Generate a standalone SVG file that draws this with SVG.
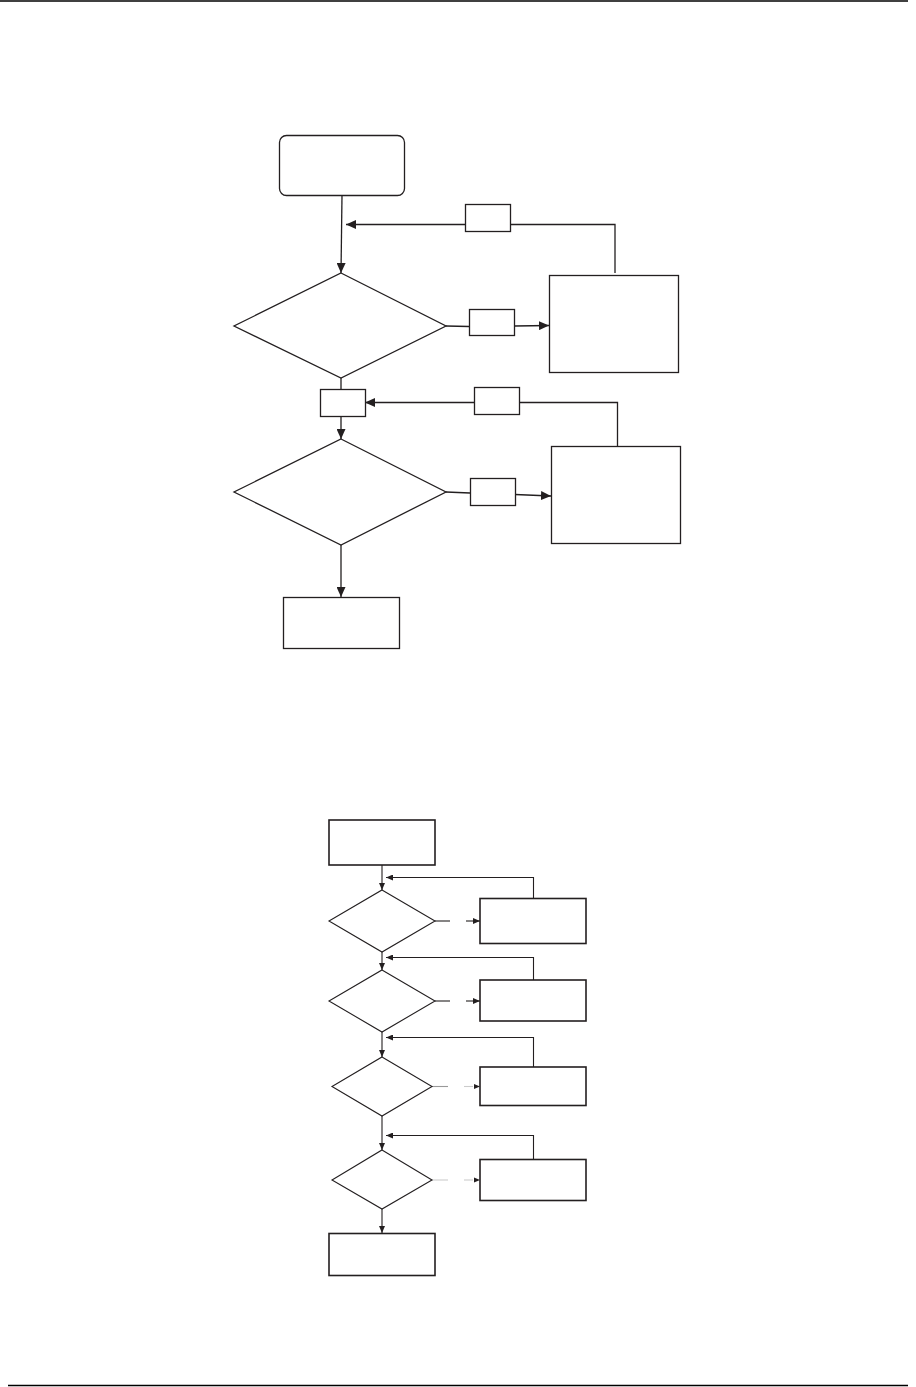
<svg xmlns="http://www.w3.org/2000/svg" width="916" height="1387" viewBox="0 0 916 1387">
<style>
.n{fill:#fff;stroke:#231f20;stroke-width:1.3}
.nb{fill:#fff;stroke:#231f20;stroke-width:1.6}
.c{fill:none;stroke:#231f20;stroke-width:1.3}
.cs{fill:none;stroke:#231f20;stroke-width:1.1}
.rule{stroke:#000;stroke-width:1.6}
</style>
<defs>
<marker id="a" markerUnits="userSpaceOnUse" markerWidth="10" markerHeight="9" refX="10" refY="4.5" orient="auto"><path d="M0,0 L10,4.5 L0,9 z" fill="#231f20"/></marker>
<marker id="s" markerUnits="userSpaceOnUse" markerWidth="7" markerHeight="6" refX="7" refY="3" orient="auto"><path d="M0,0 L7,3 L0,6 z" fill="#231f20"/></marker>
</defs>
<line class="rule" x1="0" y1="1" x2="908" y2="1"/>
<line class="rule" x1="8" y1="1385.5" x2="908" y2="1385.5"/>

<g id="connectors">
<!-- upper diagram -->
<path class="c" d="M342,195 L341,273" marker-end="url(#a)"/>
<path class="c" d="M465,224.5 L346,224.5" marker-end="url(#a)"/>
<path class="c" d="M510,224.5 L615,224.5 L615,273"/>
<path class="c" d="M446,326 L469,326.5"/>
<path class="c" d="M514.5,326 L549,325.5" marker-end="url(#a)"/>
<path class="c" d="M341,378 L341,389"/>
<path class="c" d="M474,402.5 L365,402.5" marker-end="url(#a)"/>
<path class="c" d="M519,402.5 L617.5,402.5 L617.5,446"/>
<path class="c" d="M341,416 L341,439" marker-end="url(#a)"/>
<path class="c" d="M446,492 L470,493"/>
<path class="c" d="M515,494.5 L551,496" marker-end="url(#a)"/>
<path class="c" d="M341,545 L341,597" marker-end="url(#a)"/>
<!-- lower diagram -->
<path class="cs" d="M382,865 L382,890" marker-end="url(#s)"/>
<path class="cs" d="M533.5,898 L533.5,877.5 L386,877.5" marker-end="url(#s)"/>
<path class="cs" d="M435,921 L450,921"/>
<path class="cs" d="M466,921 L480,921" marker-end="url(#s)"/>
<path class="cs" d="M382,952 L382,970" marker-end="url(#s)"/>
<path class="cs" d="M533.5,980 L533.5,957.5 L386,957.5" marker-end="url(#s)"/>
<path class="cs" d="M435,1001 L450,1001"/>
<path class="cs" d="M466,1001 L480,1001" marker-end="url(#s)"/>
<path class="cs" d="M382,1032 L382,1057" marker-end="url(#s)"/>
<path class="cs" d="M533.5,1067 L533.5,1037.5 L386,1037.5" marker-end="url(#s)"/>
<path class="cs" d="M432,1086.5 L448,1086.5" style="stroke:#999"/>
<path class="cs" d="M464,1086.5 L473,1086.5" style="stroke:#ccc"/>
<path d="M474,1084 L480,1086.5 L474,1089 z" fill="#231f20"/>
<path class="cs" d="M382,1116 L382,1150" marker-end="url(#s)"/>
<path class="cs" d="M533.5,1159 L533.5,1135.5 L386,1135.5" marker-end="url(#s)"/>
<path class="cs" d="M432,1180 L448,1180" style="stroke:#ccc"/>
<path class="cs" d="M464,1180 L473,1180" style="stroke:#ccc"/>
<path d="M474,1177.5 L480,1180 L474,1182.5 z" fill="#231f20"/>
<path class="cs" d="M382,1209 L382,1233" marker-end="url(#s)"/>
</g>

<!-- upper diagram nodes -->
<g id="start1"><rect class="n" x="279.5" y="135.5" width="125" height="60" rx="7"/></g>
<g id="dec1"><polygon class="n" points="341,273 446,326 341,378 234,326"/></g>
<g id="lbl1"><rect class="n" x="465.5" y="204.5" width="45" height="27"/></g>
<g id="lbl2"><rect class="n" x="469.5" y="309.5" width="45" height="26"/></g>
<g id="act1"><rect class="n" x="549.5" y="275.5" width="129" height="97"/></g>
<g id="lbl3"><rect class="n" x="320.5" y="389.5" width="45" height="27"/></g>
<g id="lbl4"><rect class="n" x="474.5" y="387.5" width="45" height="27"/></g>
<g id="dec2"><polygon class="n" points="341,439 446,492 341,545 234,492"/></g>
<g id="lbl5"><rect class="n" x="470.5" y="478.5" width="45" height="27"/></g>
<g id="act2"><rect class="n" x="551.5" y="446.5" width="129" height="97"/></g>
<g id="end1"><rect class="n" x="283.5" y="597.5" width="116" height="51"/></g>

<!-- lower diagram nodes -->
<g id="start2"><rect class="nb" x="329" y="820" width="106" height="45"/></g>
<g id="decA"><polygon class="cs" style="fill:#fff" points="382,890 435,921 382,952 329,921"/></g>
<g id="actA"><rect class="nb" x="480" y="898.5" width="106" height="45"/></g>
<g id="decB"><polygon class="cs" style="fill:#fff" points="382,970 435,1001 382,1032 329,1001"/></g>
<g id="actB"><rect class="nb" x="480" y="980" width="106" height="41"/></g>
<g id="decC"><polygon class="cs" style="fill:#fff" points="382,1057 432,1086.5 382,1116 332,1086.5"/></g>
<g id="actC"><rect class="nb" x="480" y="1067" width="106" height="38.5"/></g>
<g id="decD"><polygon class="cs" style="fill:#fff" points="382,1150 432,1180 382,1209 332,1180"/></g>
<g id="actD"><rect class="nb" x="480" y="1159.5" width="106" height="41"/></g>
<g id="end2"><rect class="nb" x="329" y="1233.5" width="106" height="42"/></g>
</svg>
